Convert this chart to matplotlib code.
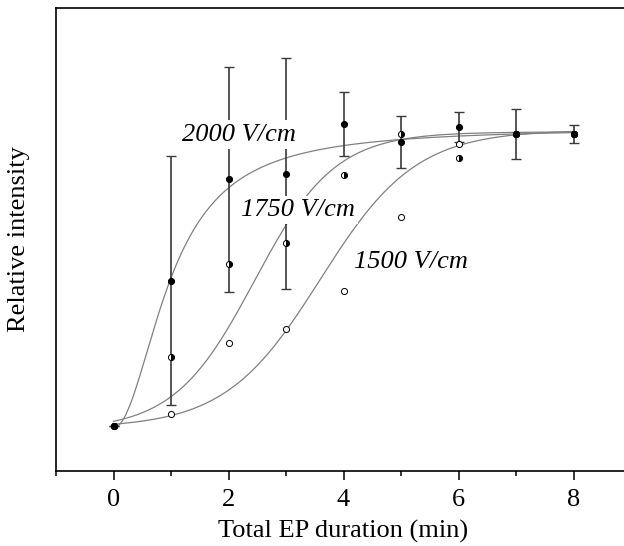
import numpy as np
import matplotlib
matplotlib.use("Agg")
import matplotlib.pyplot as plt

# measured points (relative intensity, arbitrary units)
t = [0, 1, 2, 3, 4, 5, 6, 7, 8]
i_2000 = [0.136, 0.575, 0.882, 0.899, 1.049, 0.994, 1.039, 1.019, 1.019]
err_2000 = [0.0, 0.377, 0.340, 0.349, 0.096, 0.078, 0.045, 0.076, 0.027]
i_1750 = [0.136, 0.344, 0.625, 0.688, 0.894, 1.018, 0.945, 1.019, 1.019]
i_1500 = [0.136, 0.173, 0.386, 0.428, 0.544, 0.769, 0.989, 1.019, 1.019]

# fitted sigmoid parameters: (A1, A2, x0, width)
fit_2000 = (0.130, 1.037, 1.00, 2.0)   # logistic (dose-response) form, width = power
fit_1750 = (0.123, 1.025, 2.45, 0.70)  # Boltzmann form
fit_1500 = (0.129, 1.031, 3.60, 0.83)  # Boltzmann form

labels = ["2000 V/cm", "1750 V/cm", "1500 V/cm"]
label_pos = [(1.20, 1.016), (2.214, 0.789), (4.184, 0.632)]


def logistic(x, a1, a2, x0, p):
    return a2 + (a1 - a2) / (1 + (x / x0) ** p)


def boltzmann(x, a1, a2, x0, dx):
    return a2 + (a1 - a2) / (1 + np.exp((x - x0) / dx))


plt.rcParams['font.family'] = ['Liberation Serif', 'DejaVu Serif']

fig = plt.figure(figsize=(6.24, 5.46), dpi=100)
ax = fig.add_axes([56 / 624, 75.3 / 546, 575 / 624, 462.7 / 546])

xs = np.linspace(0, 8, 300)
curve_kw = dict(color='#808080', lw=0.9, zorder=2)
ax.plot(xs, logistic(xs, *fit_2000), **curve_kw)
ax.plot(xs, boltzmann(xs, *fit_1750), **curve_kw)
ax.plot(xs, boltzmann(xs, *fit_1500), **curve_kw)

ax.errorbar(t, i_2000, yerr=err_2000, fmt='none', ecolor='#3a3a3a',
            elinewidth=1.2, capsize=3.6, capthick=1.0, zorder=3)

ms = 4.4
ax.plot(t, i_1500, 'o', ms=ms, mfc='white', mec='black', mew=0.7, zorder=4)
ax.plot(t, i_1750, 'o', ms=ms, fillstyle='right', mfc='black',
        mfcalt='white', mec='black', mew=0.7, zorder=5)
ax.plot(t, i_2000, 'o', ms=ms, mfc='black', mec='black', mew=0.7, zorder=6)

for txt, (lx, ly) in zip(labels, label_pos):
    ax.text(lx, ly, txt, fontsize=19, style='italic', ha='left', va='center',
            bbox=dict(facecolor='white', edgecolor='none', pad=2.5), zorder=7)

ax.set_xlim(-1, 9)
ax.set_ylim(0, 1.4)
ax.set_xticks([0, 2, 4, 6, 8])
ax.set_xticks([-1, 1, 3, 5, 7, 9], minor=True)
ax.set_yticks([])
ax.tick_params(axis='x', which='major', direction='out', length=6.5, width=1.1,
               labelsize=19, pad=7)
ax.tick_params(axis='x', which='minor', direction='out', length=3.5, width=1.1)
for sp in ax.spines.values():
    sp.set_linewidth(1.2)

ax.set_xlabel("Total EP duration (min)", fontsize=19, labelpad=6)
ax.set_ylabel("Relative intensity", fontsize=19, labelpad=19)

fig.savefig("out.png", dpi=100)
